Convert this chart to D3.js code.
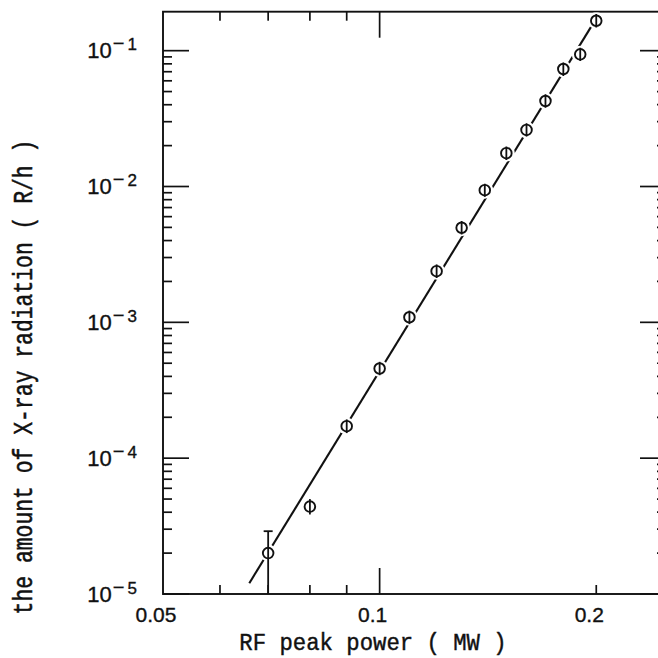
<!DOCTYPE html>
<html>
<head>
<meta charset="utf-8">
<script src="https://cdn.jsdelivr.net/npm/d3@7"></script>
<style>
  html, body { margin: 0; padding: 0; background: #fff; }
  svg { display: block; }
</style>
</head>
<body>
<svg id="chart" width="658" height="658"></svg>
<script>
// ---- data ----
const power = [0.070, 0.080, 0.090, 0.100, 0.110, 0.120, 0.130, 0.140, 0.150, 0.160, 0.170, 0.180, 0.190, 0.200];
const dose  = [2.0e-5, 4.4e-5, 1.72e-4, 4.57e-4, 1.09e-3, 2.38e-3, 4.97e-3, 9.4e-3, 1.76e-2, 2.61e-2, 4.26e-2, 7.33e-2, 9.4e-2, 0.166];
const doseHi = [2.9e-5, 5.0e-5, 1.93e-4, 5.12e-4, 1.22e-3, 2.67e-3, 5.57e-3, 1.05e-2, 1.97e-2, 2.92e-2, 4.77e-2, 8.2e-2, 1.05e-1, 0.186];
const doseLo = [9e-6, 3.85e-5, 1.53e-4, 4.08e-4, 9.7e-4, 2.12e-3, 4.44e-3, 8.4e-3, 1.57e-2, 2.33e-2, 3.8e-2, 6.5e-2, 8.4e-2, 0.148];
// fitted power-law line (end points)
const fitPower = [0.0659, 0.200];
const fitDose  = [1.2e-5, 0.173];
// ticks
const xMajorTicks = [0.1];
const xMinorTicks = [0.06, 0.07, 0.08, 0.09, 0.2];
const xTickLabels = ["0.05", "0.1", "0.2"];
const xTickLabelValues = [0.05, 0.1, 0.2];
const yMajorTicks = [1e-5, 1e-4, 1e-3, 1e-2, 1e-1];
const yTickExponents = ["5", "4", "3", "2", "1"];
const yMinorMultipliers = [2, 3, 4, 5, 6, 7, 8, 9];
const xLabel = "RF peak power ( MW )";
const yLabel = "the amount of X-ray radiation ( R/h )";

// ---- layout ----
const L = 163, R = 666, T = 11.7, B = 594;
const x = d3.scaleLog().domain([0.05, 0.25]).range([L, R]);
const y = d3.scaleLog().domain([1e-5, 0.1936]).range([B, T]);

const svg = d3.select("#chart");
const ink = "#111";

// frame
svg.append("rect").attr("x", L).attr("y", T).attr("width", R - L).attr("height", B - T)
  .attr("fill", "none").attr("stroke", ink).attr("stroke-width", 1.9);

const MAJ = 26, MIN = 9;
const g = svg.append("g").attr("stroke", ink).attr("stroke-width", 1.7);

// x ticks bottom and top
xMajorTicks.forEach(v => {
  g.append("line").attr("x1", x(v)).attr("x2", x(v)).attr("y1", B).attr("y2", B - MAJ);
  g.append("line").attr("x1", x(v)).attr("x2", x(v)).attr("y1", T).attr("y2", T + MAJ);
});
xMinorTicks.forEach(v => {
  g.append("line").attr("x1", x(v)).attr("x2", x(v)).attr("y1", B).attr("y2", B - MIN);
  g.append("line").attr("x1", x(v)).attr("x2", x(v)).attr("y1", T).attr("y2", T + MIN);
});
// y ticks left and right
const yMax = y.domain()[1];
yMajorTicks.forEach(v => {
  g.append("line").attr("x1", L).attr("x2", L + MAJ).attr("y1", y(v)).attr("y2", y(v));
  g.append("line").attr("x1", R).attr("x2", R - MAJ).attr("y1", y(v)).attr("y2", y(v));
  yMinorMultipliers.forEach(m => {
    const w = v * m;
    if (w > yMax) return;
    g.append("line").attr("x1", L).attr("x2", L + MIN).attr("y1", y(w)).attr("y2", y(w));
    g.append("line").attr("x1", R).attr("x2", R - MIN).attr("y1", y(w)).attr("y2", y(w));
  });
});

// tick labels
const tickFont = "'Liberation Sans', Arial, sans-serif";
xTickLabelValues.forEach((v, i) => {
  svg.append("text").attr("x", x(v) - 7).attr("y", 622)
    .attr("text-anchor", "middle").attr("font-family", tickFont).attr("font-size", 21)
    .attr("fill", ink).attr("stroke", ink).attr("stroke-width", 0.35).text(xTickLabels[i]);
});
yMajorTicks.forEach((v, i) => {
  const t = svg.append("text").attr("x", 137).attr("y", y(v) + 7.5)
    .attr("text-anchor", "end").attr("font-family", tickFont).attr("font-size", 22)
    .attr("fill", ink).attr("stroke", ink).attr("stroke-width", 0.35);
  t.append("tspan").text("10");
  t.append("tspan").attr("font-size", 20).attr("dy", -8).attr("dx", 1).text("\u2212");
  t.append("tspan").attr("font-size", 17).attr("dx", 3).text(yTickExponents[i]);
});

// axis titles
const titleFont = "'Liberation Mono', 'Courier New', monospace";
svg.append("text")
  .attr("transform", "translate(373,650) scale(1,1.08)")
  .attr("text-anchor", "middle").attr("font-family", titleFont).attr("font-size", 22.3)
  .attr("fill", ink).attr("stroke", ink).attr("stroke-width", 0.4).text(xLabel);
svg.append("text")
  .attr("transform", "translate(32,377) rotate(-90) scale(1,1.3)")
  .attr("text-anchor", "middle").attr("font-family", titleFont).attr("font-size", 21.4)
  .attr("fill", ink).attr("stroke", ink).attr("stroke-width", 0.4).text(yLabel);

// clip
svg.append("clipPath").attr("id", "plot").append("rect")
  .attr("x", L).attr("y", T).attr("width", R - L).attr("height", B - T);
const plot = svg.append("g").attr("clip-path", "url(#plot)");

// fitted line
const line = d3.line().x(d => x(d[0])).y(d => y(d[1]));
plot.append("path").datum(fitPower.map((p, i) => [p, fitDose[i]]))
  .attr("d", line).attr("fill", "none").attr("stroke", ink).attr("stroke-width", 2.1);

// points
const pts = power.map((p, i) => ({ p, d: dose[i], hi: doseHi[i], lo: doseLo[i] }));
const r = 5.3;
// white halos to break the line around markers
plot.selectAll("circle.halo").data(pts).join("circle").attr("class", "halo")
  .attr("cx", d => x(d.p)).attr("cy", d => y(d.d)).attr("r", 8.5).attr("fill", "#fff");
// error bars
plot.selectAll("line.err").data(pts).join("line").attr("class", "err")
  .attr("x1", d => x(d.p)).attr("x2", d => x(d.p))
  .attr("y1", d => y(d.hi)).attr("y2", d => y(d.lo))
  .attr("stroke", ink).attr("stroke-width", 1.8);
const capped = pts.filter(d => y(d.lo) - y(d.hi) > 2 * (r + 3));
capped.forEach(d => {
  [d.hi, d.lo].forEach(v => {
    plot.append("line").attr("x1", x(d.p) - 4.5).attr("x2", x(d.p) + 4.5)
      .attr("y1", y(v)).attr("y2", y(v)).attr("stroke", ink).attr("stroke-width", 1.8);
  });
});
// markers
plot.selectAll("circle.pt").data(pts).join("circle").attr("class", "pt")
  .attr("cx", d => x(d.p)).attr("cy", d => y(d.d)).attr("r", r)
  .attr("fill", "none").attr("stroke", ink).attr("stroke-width", 1.9);
</script>
</body>
</html>
